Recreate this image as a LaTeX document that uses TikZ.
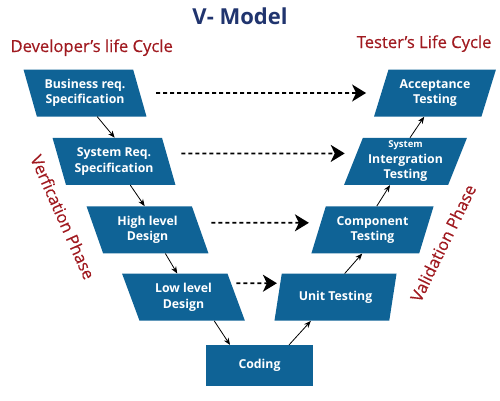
\documentclass[tikz,border=0pt]{standalone}
\usepackage{fontspec}
\setmainfont{Open Sans}
\newfontfamily\phasefont[FakeBold=0.4]{Open Sans}
\usetikzlibrary{shapes.geometric,arrows.meta,positioning}
\definecolor{boxblue}{RGB}{15,99,150}
\definecolor{titleblue}{RGB}{32,52,110}
\definecolor{phasered}{RGB}{160,26,32}

\begin{document}
\begin{tikzpicture}[
            x=1pt, y=1pt,
            node distance=21pt and 30pt,
            every node/.style={align=center},
            devbox/.style={trapezium, trapezium left angle=112, trapezium right angle=68,
              trapezium stretches=true, fill=boxblue, text=white, inner sep=0pt,
              minimum width=123pt, minimum height=47pt,
              font=\bfseries\fontsize{12.3}{15.5}\selectfont},
            testbox/.style={devbox, trapezium left angle=68, trapezium right angle=112},
            codebox/.style={rectangle, fill=boxblue, text=white, minimum width=107pt,
              minimum height=41pt, font=\bfseries\fontsize{12.3}{15.5}\selectfont},
            phase/.style={text=phasered, font=\phasefont\fontsize{16.6}{20}\selectfont},
            flow/.style={-{Stealth[length=7pt,width=5.5pt]}, line width=0.8pt},
            link/.style={-{Stealth[length=14pt,width=17pt,inset=4pt]}, line width=1.8pt,
              dash pattern=on 4pt off 3pt}
          ]

          \useasboundingbox (0,0) rectangle (500,-400);

          % Headings
          \node[anchor=base, text=titleblue, font=\bfseries\fontsize{22}{26}\selectfont] (title) at (240,-24) {V- Model};
          \node[phase, anchor=base west] (devcycle) at (7,-52) {Developer’s life Cycle};
          \node[phase, anchor=base east] (testcycle) at (495,-48) {Tester’s Life Cycle};
          \node[phase, rotate=-66] (verif) at (63,-217) {Verfication Phase};
          \node[phase, rotate=64] (valid) at (443,-243) {Validation Phase};

          % Nodes
          \node[devbox] (busreq) at (85,-93) {Business req.\\Specification};
          \node[devbox, below=of busreq, xshift=29pt] (sysreq) {System Req.\\Specification};
          \node[devbox, below=of sysreq, xshift=33.5pt] (hld) {High level\\Design};
          \node[devbox, below=20pt of hld, xshift=36pt] (lld) {Low level\\Design};
          \node[codebox, below=24pt of lld, xshift=76pt] (coding) {Coding};
          \node[testbox, above=24pt of coding, xshift=76pt] (unit) {Unit Testing};
          \node[testbox, above=20pt of unit, xshift=37pt] (comp) {Component\\Testing};
          \node[testbox, above=of comp, xshift=33pt] (sit) {{\fontsize{9.5}{11}\selectfont System}\\Intergration\\Testing};
          \node[testbox, above=of sit, xshift=29.5pt] (accept) {Acceptance\\Testing};

          % Edges
          \draw[flow] ([xshift=5.5pt]busreq.bottom side) -- ([xshift=7.5pt]sysreq.top side);
          \draw[flow] ([xshift=9.5pt]sysreq.bottom side) -- ([xshift=5.5pt]hld.top side);
          \draw[flow] ([xshift=9.5pt]hld.bottom side) -- ([xshift=2.5pt]lld.top side);
          \draw[flow] ([xshift=22pt]lld.bottom side) -- ([xshift=-29.5pt]coding.north);
          \draw[flow] ([xshift=29.5pt]coding.north) -- ([xshift=-21pt]unit.bottom side);
          \draw[flow] ([xshift=5.5pt]unit.top side) -- ([xshift=-3pt]comp.bottom side);
          \draw[flow] ([xshift=-3pt]comp.top side) -- ([xshift=-6pt]sit.bottom side);
          \draw[flow] ([xshift=-5pt]sit.top side) -- ([xshift=-3.5pt]accept.bottom side);

          \draw[link, shorten <=16pt, shorten >=15pt] (busreq.east) -- (accept.west);
          \draw[link, shorten <=12.5pt, shorten >=8.5pt] ([yshift=8pt]sysreq.east) -- ([yshift=8pt]sit.west);
          \draw[link, shorten <=11pt, shorten >=9.5pt] ([yshift=7pt]hld.east) -- ([yshift=7pt]comp.west);
          \draw[link, shorten >=1pt] ([yshift=14pt]lld.east) -- ([yshift=14pt]unit.west);

        \end{tikzpicture}
\end{document}
